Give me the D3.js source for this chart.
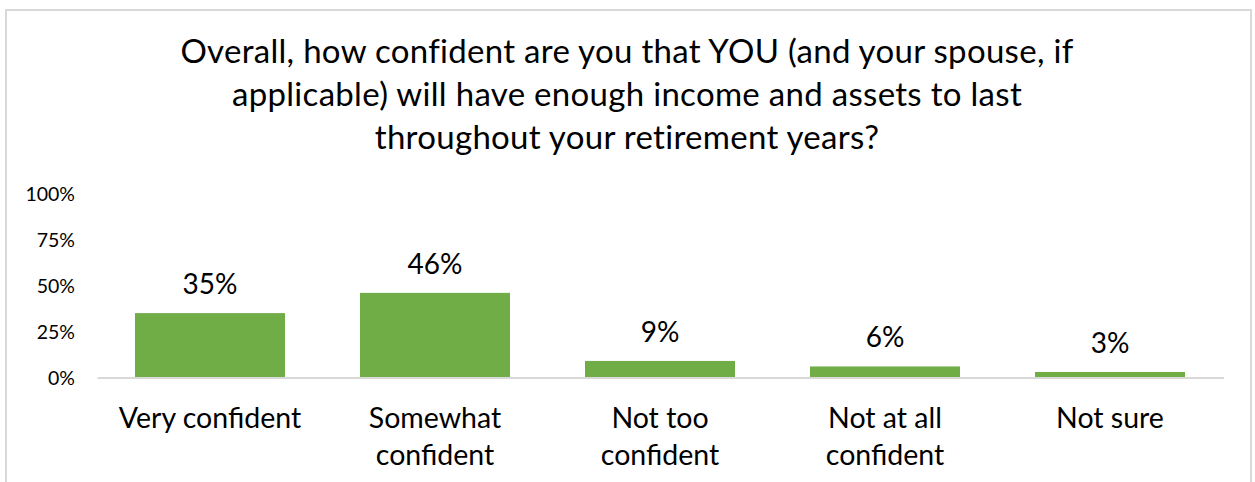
<!DOCTYPE html>
<html><head><meta charset="utf-8">
<script src="https://cdn.jsdelivr.net/npm/d3@7/dist/d3.min.js"></script>
<style>body{margin:0;background:#fff}svg{display:block}text{font-family:Lato,"Open Sans",sans-serif;fill:#000}</style>
</head><body>
<script>
const categories = [["Very confident"],["Somewhat","confident"],["Not too","confident"],["Not at all","confident"],["Not sure"]];
const values = [35, 46, 9, 6, 3];
const valueLabels = ["35%","46%","9%","6%","3%"];
const yTicks = [0, 25, 50, 75, 100];
const titleLines = ["Overall, how confident are you that YOU (and your spouse, if","applicable) will have enough income and assets to last","throughout your retirement years?"];

const W = 1255, H = 482;
const svg = d3.select("body").append("svg").attr("width", W).attr("height", H);
svg.append("rect").attr("x",6).attr("y",10).attr("width",1245).attr("height",H)
  .attr("fill","#fff").attr("stroke","#d9d9d9").attr("stroke-width",2);

const x = d3.scaleBand().domain(d3.range(categories.length)).range([97.5, 1222.5]).paddingInner(1/3).paddingOuter(1/6);
const y = d3.scaleLinear().domain([0,100]).range([377.5, 193.5]);

svg.append("g").selectAll("text").data(titleLines).join("text")
  .attr("x", 627).attr("y",(d,i)=>63+i*43).attr("text-anchor","middle")
  .attr("font-size",33).attr("letter-spacing",0.3).text(d=>d);

const yAxis = d3.axisLeft(y).tickValues(yTicks).tickFormat(d=>d+"%").tickSize(0).tickPadding(0);
const ga = svg.append("g").attr("transform","translate(75,0)").call(yAxis);
ga.select(".domain").remove();
ga.selectAll("text").attr("font-size",19.5).attr("font-family","Lato,sans-serif").attr("fill","#000").attr("dy","0.35em");

svg.append("g").selectAll("rect").data(values).join("rect")
  .attr("x",(d,i)=>x(i)).attr("width",x.bandwidth())
  .attr("y",d=>y(d)).attr("height",d=>y(0)-y(d)).attr("fill","#70AD47");

svg.append("line").attr("x1",97.5).attr("x2",1224).attr("y1",y(0)+0.5).attr("y2",y(0)+0.5)
  .attr("stroke","#d9d9d9").attr("stroke-width",2);

svg.append("g").selectAll("text").data(values).join("text")
  .attr("x",(d,i)=>x(i)+x.bandwidth()/2).attr("y",d=>y(d)-19)
  .attr("text-anchor","middle").attr("font-size",28).text((d,i)=>valueLabels[i]);

const cg = svg.append("g").selectAll("text").data(categories).join("text")
  .attr("x",(d,i)=>x(i)+x.bandwidth()/2).attr("y",428).attr("text-anchor","middle").attr("font-size",28.5);
cg.selectAll("tspan").data(d=>d).join("tspan")
  .attr("x",function(){return d3.select(this.parentNode).attr("x");})
  .attr("dy",(d,i)=>i?37:0).text(d=>d);
</script>
</body></html>
